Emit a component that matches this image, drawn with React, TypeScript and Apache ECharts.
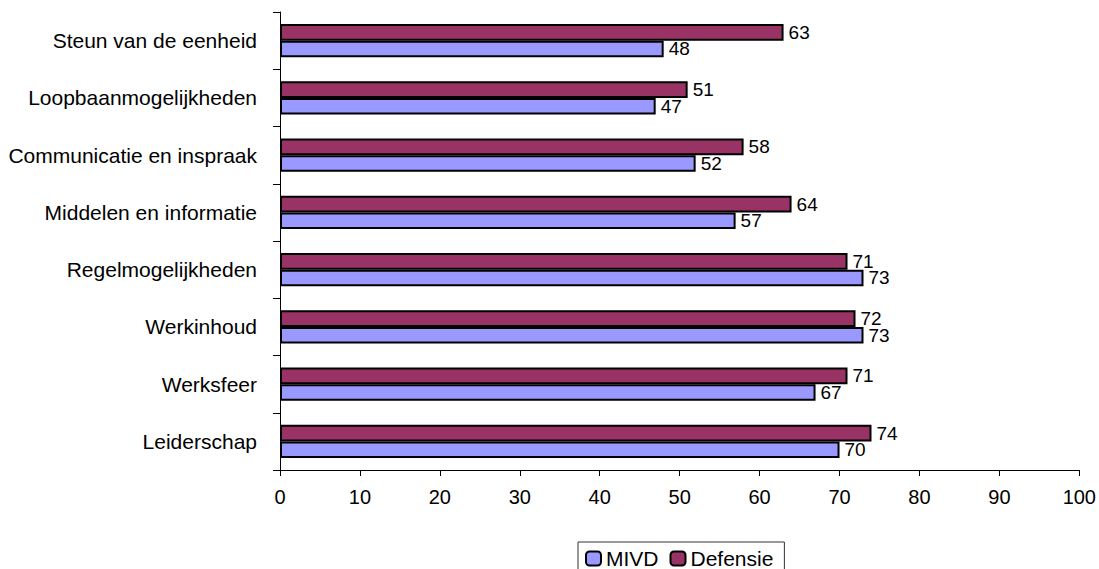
import React, { useEffect, useRef } from "react";
import * as echarts from "echarts";

const categories = [
  "Leiderschap",
  "Werksfeer",
  "Werkinhoud",
  "Regelmogelijkheden",
  "Middelen en informatie",
  "Communicatie en inspraak",
  "Loopbaanmogelijkheden",
  "Steun van de eenheid",
];
const mivd = [70, 67, 73, 73, 57, 52, 47, 48];
const defensie = [74, 71, 72, 71, 64, 58, 51, 63];
const legendNames = ["MIVD", "Defensie"];
const xTicks = { min: 0, max: 100, interval: 10 };

const FONT = 'Arial, "Liberation Sans", sans-serif';

export default function App() {
  const ref = useRef<HTMLDivElement>(null);
  useEffect(() => {
    if (!ref.current) return;
    const chart = echarts.init(ref.current, null, { renderer: "svg" });
    const label = {
      show: true,
      position: "right" as const,
      distance: 5,
      color: "#000",
      fontSize: 19,
      fontFamily: FONT,
    };
    chart.setOption({
      animation: false,
      backgroundColor: "#fff",
      textStyle: { fontFamily: FONT },
      grid: { left: 280, right: 19, top: 12, bottom: 99, containLabel: false },
      legend: {
        data: legendNames,
        left: 578,
        top: 542,
        orient: "horizontal",
        padding: [6, 11, 20, 7],
        itemGap: 11,
        itemWidth: 15,
        itemHeight: 14,
        borderColor: "#333",
        borderWidth: 1,
        textStyle: { fontSize: 21, color: "#000", fontFamily: FONT },
        selectedMode: false,
      },
      xAxis: {
        type: "value",
        min: xTicks.min,
        max: xTicks.max,
        interval: xTicks.interval,
        splitLine: { show: false },
        axisLine: { show: true, lineStyle: { color: "#000", width: 1 } },
        axisTick: { show: true, length: 6, lineStyle: { color: "#000" } },
        axisLabel: { fontSize: 20, color: "#000", margin: 17, fontFamily: FONT },
      },
      yAxis: {
        type: "category",
        data: categories,
        axisLine: { show: true, lineStyle: { color: "#000", width: 1 } },
        axisTick: { show: true, length: 7, lineStyle: { color: "#000" } },
        axisLabel: { fontSize: 21, color: "#000", margin: 23, fontFamily: FONT },
      },
      series: [
        {
          name: legendNames[1],
          type: "bar",
          data: defensie,
          barGap: "0%",
          barCategoryGap: "42%",
          itemStyle: { color: "#993366", borderColor: "#000", borderWidth: 2 },
          label,
        },
        {
          name: legendNames[0],
          type: "bar",
          data: mivd,
          barGap: "0%",
          barCategoryGap: "42%",
          itemStyle: { color: "#9999FF", borderColor: "#000", borderWidth: 2 },
          label,
        },
      ],
    });
    return () => chart.dispose();
  }, []);
  return (
    <div
      ref={ref}
      style={{ position: "fixed", left: 0, top: 0, width: 1099, height: 569 }}
    />
  );
}
